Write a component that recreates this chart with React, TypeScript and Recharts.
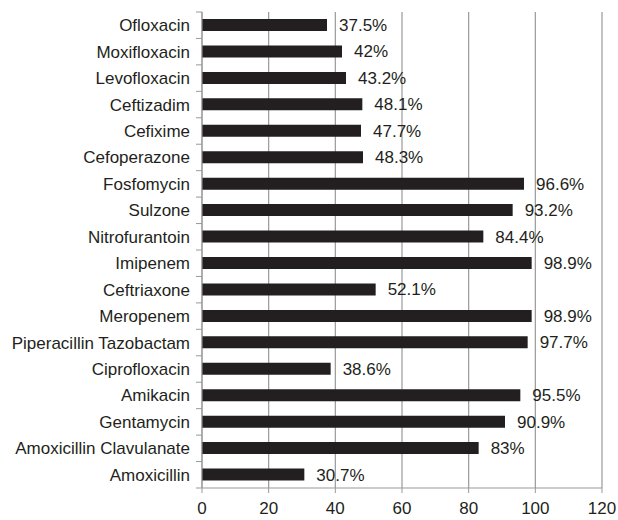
import React from "react";
import {
  BarChart,
  Bar,
  XAxis,
  YAxis,
  CartesianGrid,
  LabelList,
} from "recharts";

const drugs = [
  "Ofloxacin",
  "Moxifloxacin",
  "Levofloxacin",
  "Ceftizadim",
  "Cefixime",
  "Cefoperazone",
  "Fosfomycin",
  "Sulzone",
  "Nitrofurantoin",
  "Imipenem",
  "Ceftriaxone",
  "Meropenem",
  "Piperacillin Tazobactam",
  "Ciprofloxacin",
  "Amikacin",
  "Gentamycin",
  "Amoxicillin Clavulanate",
  "Amoxicillin",
];

const sensitivity = [
  37.5, 42, 43.2, 48.1, 47.7, 48.3, 96.6, 93.2, 84.4, 98.9, 52.1, 98.9, 97.7,
  38.6, 95.5, 90.9, 83, 30.7,
];

const xTicks = [0, 20, 40, 60, 80, 100, 120];

const data = drugs.map((name, i) => ({ name, value: sensitivity[i] }));

const font = "'Liberation Sans', Arial, sans-serif";
const ink = "#231f20";

// category ticks sit on the band boundaries, like the original
const DrugTick = (props: any) => {
  const { x, y, payload, index } = props;
  const band = 476 / drugs.length;
  return (
    <g>
      <line x1={x + 2} x2={x + 8} y1={y - band / 2} y2={y - band / 2} stroke="#999" />
      {index === drugs.length - 1 && (
        <line x1={x + 2} x2={x + 8} y1={y + band / 2} y2={y + band / 2} stroke="#999" />
      )}
      <text
        x={x - 4}
        y={y}
        dy={6}
        textAnchor="end"
        fill={ink}
        fontSize={17}
        fontFamily={font}
      >
        {payload.value}
      </text>
    </g>
  );
};

const PctLabel = (props: any) => {
  const { x, y, width, height, value } = props;
  return (
    <text
      x={x + width + 12}
      y={y + height / 2}
      dy={6}
      fill={ink}
      fontSize={17}
      fontFamily={font}
    >
      {value}%
    </text>
  );
};

export default function App() {
  return (
    <div style={{ position: "absolute", left: 0, top: 0, background: "#fff" }}>
      <BarChart
        width={618}
        height={520}
        data={data}
        layout="vertical"
        margin={{ top: 12, right: 16, bottom: 0, left: 0 }}
      >
        <CartesianGrid horizontal={false} stroke="#999" strokeWidth={1.2} />
        <XAxis
          type="number"
          domain={[0, 120]}
          ticks={xTicks}
          height={32}
          stroke="#999"
          tickSize={5}
          tickMargin={9}
          tick={{ fill: ink, fontSize: 17, fontFamily: font }}
        />
        <YAxis
          type="category"
          dataKey="name"
          width={202}
          stroke="#999"
          tickLine={false}
          interval={0}
          tick={<DrugTick />}
        />
        <Bar dataKey="value" fill={ink} barSize={12} isAnimationActive={false}>
          <LabelList dataKey="value" content={<PctLabel />} />
        </Bar>
      </BarChart>
    </div>
  );
}
